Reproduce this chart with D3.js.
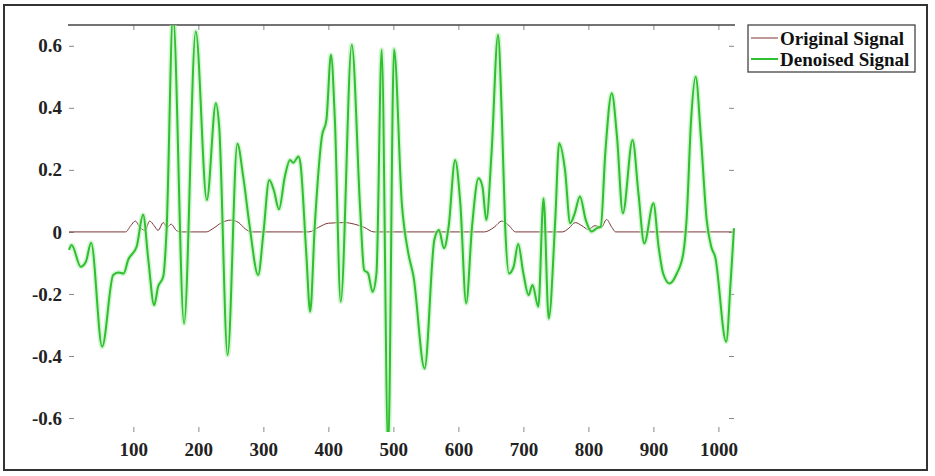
<!DOCTYPE html>
<html>
<head>
<meta charset="utf-8">
<script src="https://cdn.jsdelivr.net/npm/d3@7"></script>
<style>
    body { margin: 0; background: white; }
    svg { display: block; }
    .axis text { font-family: "Liberation Serif", "Times New Roman", serif; font-weight: bold; font-size: 19px; fill: #222; }
    .axis line { stroke: #888; }
</style>
</head>
<body>
<svg id="chart"></svg>
<script>
'use strict';

// sample index / value pairs
var denoisedX = [1, 5, 19, 27, 35, 52, 69, 77, 85, 92, 105, 115, 123, 132, 138, 146, 151,
    161, 178, 196, 213, 227, 232, 245, 260, 269, 279, 292, 300, 309, 316, 324, 333, 341,
    346, 354, 357, 366, 372, 379, 390, 397, 404, 410, 419, 436, 449, 455, 461, 468, 474,
    482, 492, 501, 513, 523, 531, 548, 563, 570, 578, 585, 595, 603, 612, 621, 631, 637,
    643, 651, 661, 667, 672, 678, 685, 692, 700, 708, 714, 723, 731, 739, 749, 755, 764,
    772, 779, 787, 796, 805, 813, 819, 826, 836, 844, 853, 868, 877, 886, 900, 908, 915,
    925, 936, 946, 951, 958, 965, 973, 982, 989, 995, 1012, 1019, 1024];
var denoisedY = [-0.058, -0.042, -0.112, -0.096, -0.035, -0.37, -0.139, -0.131, -0.134, -0.09,
    -0.048, 0.055, -0.09, -0.236, -0.177, -0.144, 0,
    0.70, -0.295, 0.646, 0.103, 0.415, 0.34, -0.397, 0.284, 0.178, 0.017, -0.139, -0.005,
    0.167, 0.135, 0.073, 0.178, 0.232,
    0.223, 0.243, 0.221, -0.069, -0.257, 0.017, 0.307, 0.361, 0.571, 0.361, -0.225, 0.603,
    0.07, -0.123, -0.133, -0.193, -0.133,
    0.587, -0.70, 0.589, 0.092, -0.069, -0.144, -0.44, -0.026, 0.006, -0.053, 0.017, 0.232,
    0.092, -0.23, 0.017, 0.173, 0.146,
    0.038, 0.254, 0.635, 0.361, 0.017, -0.134, -0.112, -0.039, -0.134, -0.204, -0.171, -0.241,
    0.108, -0.279, 0.038, 0.286, 0.2,
    0.028, 0.06, 0.114, 0.038, 0.001, 0.012, 0.017, 0.254, 0.447, 0.307, 0.06, 0.296, 0.124,
    -0.037, 0.092, -0.048, -0.134,
    -0.166, -0.134, -0.069, 0.038, 0.361, 0.5, 0.307, 0.038, -0.048, -0.08, -0.354, -0.155, 0.012];

var originalX = [1, 88, 96, 103, 110, 118, 125, 132, 138, 146, 152, 158, 166, 172, 212, 222,
    236, 250, 262, 272, 282, 370, 385, 400, 425, 440, 455, 470, 640, 655, 667, 678, 688,
    760, 770, 780, 790, 800, 810, 820, 828, 836, 842, 1024];
var originalY = [0, 0, 0.02, 0.035, 0.015, 0.005, 0.035, 0.02, 0.005, 0.03, 0.015, 0.025,
    0.005, 0, 0, 0.01, 0.03, 0.038, 0.03, 0.01, 0, 0, 0.015, 0.028, 0.03, 0.025, 0.015, 0,
    0, 0.015, 0.035, 0.02, 0, 0, 0.012, 0.03, 0.02, 0.008, 0.02, 0.015, 0.04, 0.015, 0, 0];

var xTicks = [100, 200, 300, 400, 500, 600, 700, 800, 900, 1000];
var yTicks = [-0.6, -0.4, -0.2, 0, 0.2, 0.4, 0.6];
var seriesNames = ["Original Signal", "Denoised Signal"];

var colors = {
    original: "#7a3434",
    denoised: "#2fbf2f",
    glow: "#b6eeb6"
};

var width = 935, height = 476;
var plot = { left: 69, right: 734, top: 25, bottom: 432 };

var svg = d3.select("#chart")
            .attr("width", width)
            .attr("height", height);

// outer frame round the whole figure
svg.append("rect")
   .attr("x", 4).attr("y", 5)
   .attr("width", 923).attr("height", 465)
   .attr("fill", "white")
   .attr("stroke", "#333")
   .attr("stroke-width", 2);

var x = d3.scaleLinear().domain([1, 1024]).range([plot.left, plot.right]);
var y = d3.scaleLinear().domain([-0.645, 0.667]).range([plot.bottom, plot.top]);

svg.append("defs").append("clipPath")
   .attr("id", "clip")
   .append("rect")
   .attr("x", plot.left - 1).attr("y", plot.top)
   .attr("width", plot.right - plot.left + 2)
   .attr("height", plot.bottom - plot.top);

var fmt = function(d) { return d === 0 ? "0" : String(d); };

// axes: ticks point inward, no domain lines except the top one
svg.append("g")
   .attr("class", "axis")
   .attr("transform", "translate(" + plot.left + ",0)")
   .call(d3.axisLeft(y).tickValues(yTicks).tickFormat(fmt).tickSize(-5).tickPadding(7))
   .call(function(g) { g.select(".domain").remove(); });

svg.append("g")
   .attr("class", "axis")
   .attr("transform", "translate(0," + plot.bottom + ")")
   .call(d3.axisBottom(x).tickValues(xTicks).tickFormat(d3.format("d")).tickSize(-5).tickPadding(11))
   .call(function(g) { g.select(".domain").remove(); });

svg.append("g")
   .attr("class", "axis")
   .attr("transform", "translate(0," + plot.top + ")")
   .call(d3.axisTop(x).tickValues(xTicks).tickFormat("").tickSize(-5))
   .call(function(g) { g.select(".domain").remove(); });

svg.append("g")
   .attr("class", "axis")
   .attr("transform", "translate(" + plot.right + ",0)")
   .call(d3.axisRight(y).tickValues(yTicks).tickFormat("").tickSize(-5))
   .call(function(g) { g.select(".domain").remove(); });

svg.append("line")
   .attr("x1", plot.left - 1).attr("x2", plot.right + 1)
   .attr("y1", plot.top).attr("y2", plot.top)
   .attr("stroke", "#444")
   .attr("stroke-width", 1.5);

var line = d3.line()
             .x(function(d) { return x(d[0]); })
             .y(function(d) { return y(d[1]); })
             .curve(d3.curveMonotoneX);

var original = d3.zip(originalX, originalY);
var denoised = d3.zip(denoisedX, denoisedY);

var lines = svg.append("g").attr("clip-path", "url(#clip)");

lines.append("path")
     .datum(original)
     .attr("fill", "none")
     .attr("stroke", colors.original)
     .attr("stroke-width", 1)
     .attr("d", line);

// soft halo like the blurry original
lines.append("path")
     .datum(denoised)
     .attr("fill", "none")
     .attr("stroke", colors.glow)
     .attr("stroke-width", 5)
     .attr("stroke-linejoin", "round")
     .attr("opacity", 0.6)
     .attr("d", line);

lines.append("path")
     .datum(denoised)
     .attr("fill", "none")
     .attr("stroke", colors.denoised)
     .attr("stroke-width", 2)
     .attr("stroke-linejoin", "round")
     .attr("d", line);

// legend
var legend = svg.append("g").attr("class", "legend");

legend.append("rect")
      .attr("x", 748).attr("y", 25)
      .attr("width", 167).attr("height", 47)
      .attr("fill", "white")
      .attr("stroke", "#444")
      .attr("stroke-width", 1.3);

var legendColors = [colors.original, colors.denoised];

seriesNames.forEach(function(name, i) {
    var yy = 38 + i * 21;
    legend.append("line")
          .attr("x1", 751).attr("x2", 778)
          .attr("y1", yy).attr("y2", yy)
          .attr("stroke", legendColors[i])
          .attr("stroke-width", i === 0 ? 1 : 2);
    legend.append("text")
          .attr("x", 780).attr("y", yy + 6.5)
          .attr("font-family", "'Liberation Serif', 'Times New Roman', serif")
          .attr("font-weight", "bold")
          .attr("font-size", "19px")
          .attr("fill", "#111")
          .text(name);
});
</script>
</body>
</html>
